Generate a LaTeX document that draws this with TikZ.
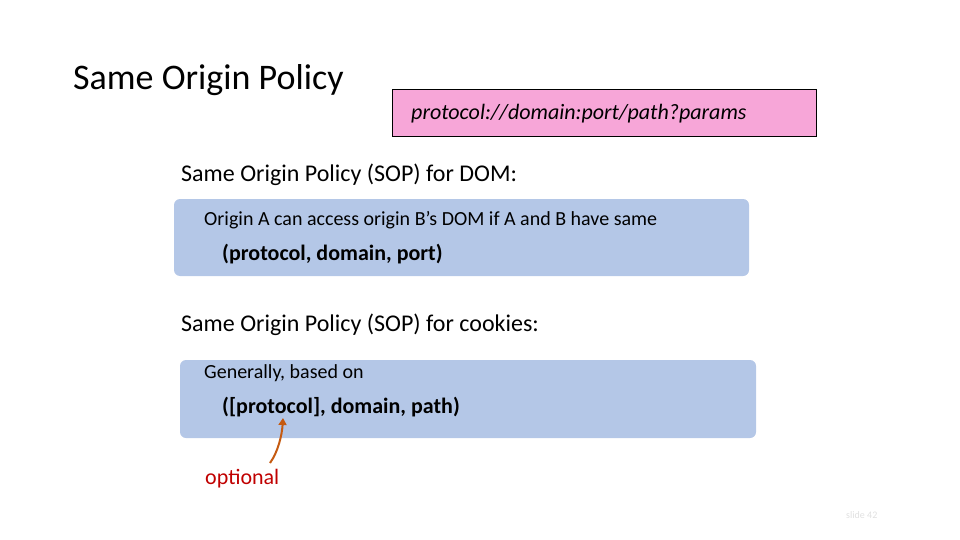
\documentclass[tikz,border=0pt]{standalone}
\usepackage{fontspec}
\setmainfont{Carlito}
\usetikzlibrary{arrows.meta}
\definecolor{boxblue}{HTML}{B4C7E7}
\definecolor{pinkbox}{HTML}{F7A6D8}
\definecolor{arr}{HTML}{C55A11}
\definecolor{opt}{HTML}{C00000}
\tikzset{
  bluebox/.style={fill=boxblue,rounded corners=6pt,draw=none},
  txt/.style={anchor=west,inner sep=0pt},
}
\begin{document}
\begin{tikzpicture}[x=1pt,y=-1pt]
\useasboundingbox (0,0) rectangle (960,540);
\node[txt,font=\fontsize{36}{40}\selectfont] (title) at (73,80) {Same Origin Policy};
\node[draw=black,fill=pinkbox,line width=1pt,minimum width=424pt,minimum height=47pt,inner sep=0pt] (url) at (604,113.5) {};
\node[txt,font=\fontsize{22}{26}\selectfont\itshape] (urlt) at (411,114) {protocol://domain:port/path?params};
\node[txt,font=\fontsize{24}{28}\selectfont] (h1) at (181,175) {Same Origin Policy (SOP) for DOM:};
\fill[bluebox] (174,199) rectangle (749,276);
\node[txt,font=\fontsize{20}{24}\selectfont] (d1) at (204,220) {Origin A can access origin B’s DOM if A and B have same};
\node[txt,font=\fontsize{22}{26}\selectfont\bfseries] (d2) at (222,254) {(protocol, domain, port)};
\node[txt,font=\fontsize{24}{28}\selectfont] (h2) at (181,325) {Same Origin Policy (SOP) for cookies:};
\fill[bluebox] (180,360) rectangle (756,438);
\node[txt,font=\fontsize{20}{24}\selectfont] (c1) at (204,373) {Generally, based on};
\node[txt,font=\fontsize{22}{26}\selectfont\bfseries] (c2) at (222,407) {([protocol], domain, path)};
\node[txt,font=\fontsize{22}{26}\selectfont,text=opt] (optn) at (205,479) {optional};
\coordinate (tip) at (283,418);
\draw[arr,line width=2pt,-{Triangle[length=7pt,width=8pt]}] (270,463) .. controls (278,452) and (282,435) .. (tip);
\node[txt,font=\fontsize{10}{12}\selectfont,text=black!12] (slide) at (846,515) {slide 42};
\end{tikzpicture}
\end{document}
